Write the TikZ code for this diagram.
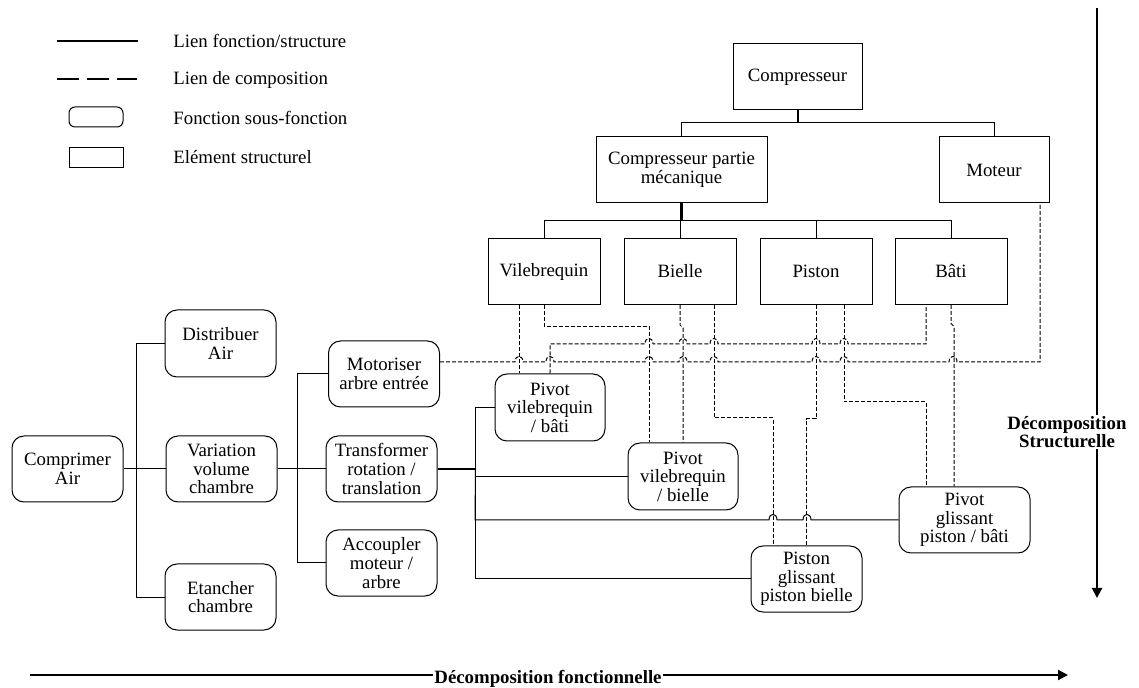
\documentclass[tikz,border=0pt]{standalone}
\usepackage{fontspec}
\setmainfont{Liberation Serif}
\usetikzlibrary{calc,arrows.meta}
\pgfdeclarelayer{bg}
\pgfsetlayers{bg,main}
\tikzset{
    every node/.style={inner sep=1pt, align=center, font=\fontsize{9.4}{9.3}\selectfont}
}
\tikzset{
    fonc/.style={draw, line width=0.5pt, rounded corners=6pt, minimum width=55.5pt, minimum height=33pt},
    elem/.style={draw, line width=0.5pt, minimum width=56pt, minimum height=33pt},
    lien/.style={line width=0.5pt},
    comp/.style={line width=0.5pt, dash pattern=on 2pt off 1pt},
    axe/.style={line width=1pt, -{Triangle[length=5pt,width=5pt]}},
    titre/.style={fill=white, inner sep=0.5pt, font=\bfseries\fontsize{9.4}{9.3}\selectfont},
    legende/.style={anchor=west, inner sep=0pt}
}
\newcommand{\hop}[2]{-- ({#1-4},#2) .. controls ({#1-4},{#2-7.5}) and ({#1+4},{#2-7.5}) .. ({#1+4},#2)}

\begin{document}
\begin{tikzpicture}[x=0.5pt, y=-0.5pt]
        \useasboundingbox (0,0) rectangle (1139,688);
        % legende
        \coordinate (l1a) at (57,41);
        \coordinate (l1b) at (138,41);
        \coordinate (l2a) at (57,79);
        \coordinate (l2b) at (137,79);
        \draw[line width=0.9pt] (l1a) -- (l1b);
        \draw[line width=1.1pt, dash pattern=on 11pt off 4pt] (l2a) -- (l2b);
        \node (lfon) [draw, line width=0.5pt, rounded corners=3pt, minimum width=27pt, minimum height=10pt, inner sep=0pt] at (96,117) {};
        \node (lelem) [draw, line width=0.5pt, minimum width=27pt, minimum height=10pt, inner sep=0pt] at (96,158) {};
        \node (t1) [legende] at (173,41) {Lien fonction/structure};
        \node (t2) [legende] at (173,80) {Lien de composition};
        \node (t3) [legende] at (173,118) {Fonction sous-fonction};
        \node (t4) [legende] at (173,157) {El\'ement structurel};
        % structure
        \node (cmp) [elem, minimum width=64.5pt] at (797.5,77) {Compresseur};
        \node (cpm) [elem, minimum width=85.5pt] at (681.5,170) {Compresseur partie\\m\'ecanique};
        \node (mot) [elem, minimum width=55pt] at (994,170) {Moteur};
        \node (vil) [elem] at (544,271.5) {Vilebrequin};
        \node (bie) [elem] at (680,271.5) {Bielle};
        \node (pis) [elem] at (816,271.5) {Piston};
        \node (bat) [elem] at (951,271.5) {B\^ati};
        % fonctions
        \node (ca) [fonc] at (67.5,469) {Comprimer\\Air};
        \node (da) [fonc, minimum height=33.5pt] at (220.5,343.5) {Distribuer\\Air};
        \node (vvc) [fonc] at (221.5,469) {Variation\\volume\\chambre};
        \node (ec) [fonc] at (220.5,597) {Etancher\\chambre};
        \node (mae) [fonc] at (384,374) {Motoriser\\arbre entr\'ee};
        \node (trt) [fonc] at (381.5,469) {Transformer\\rotation /\\translation};
        \node (ama) [fonc] at (381.5,563) {Accoupler\\moteur /\\arbre};
        \node (pvb) [fonc, minimum width=55pt, minimum height=33.5pt] at (550,407.5) {Pivot\\vilebrequin\\/ b\^ati};
        \node (pvbi) [fonc, minimum width=55pt, minimum height=33.5pt] at (683,476.5) {Pivot\\vilebrequin\\/ bielle};
        \node (pgpb) [fonc, minimum width=65.5pt] at (964.5,520) {Pivot\\glissant\\piston / b\^ati};
        \node (pgpi) [fonc] at (806.5,579) {Piston\\glissant\\piston bielle};
        \begin{pgfonlayer}{bg}
                \draw[lien] (ca.east) -- (vvc.west);
                \draw[lien] (ca.east) -- ++(13,0) |- (da.west);
                \draw[lien] (ca.east) -- ++(13,0) |- (ec.west);
                \draw[lien] (vvc.east) -- (trt.west);
                \draw[lien] (vvc.east) -- ++(20,0) |- (mae.west);
                \draw[lien] (vvc.east) -- ++(20,0) |- (ama.west);
                \draw[lien, line width=1pt] (trt.east) -- ++(38,0);
                \draw[lien, line width=0.8pt] (trt.east) ++(38,0) |- (pvb.west);
                \draw[lien] (trt.east) ++(38,0) |- (pvbi.west);
                \draw[lien, line width=0.8pt] (trt.east) ++(38,0) -- ++(0,110);
                \draw[lien] (trt.east) ++(38,0) |- (pgpi.west);
                \draw[lien] (trt.east) ++(38,0) -- (475,520) \hop{773}{520} \hop{807}{520} -- (pgpb.west);
                \draw[lien, line width=1pt] (cmp.south) -- ++(0,13);
                \draw[lien] (cpm.north) -- ++(0,-14) -| (mot.north);
                \draw[lien, line width=1.2pt] (cpm.south) -- ++(0,17);
                \draw[lien] (vil.north) -- ++(0,-17.5) -| (bat.north);
                \draw[lien] (bie.north) -- ++(0,-17.5);
                \draw[lien] (pis.north) -- ++(0,-17.5);
                \draw[comp] ($(mae.east)+(0,-12)$) \hop{519}{362} \hop{550}{362} \hop{649}{362} \hop{683}{362} \hop{714}{362} \hop{816}{362} \hop{844}{362} \hop{953}{362} -- (1040,362) -- ($(mot.south)+(46,0)$);
                \draw[comp] (pvb.north) -- (550,344) \hop{649}{344} \hop{683}{344} \hop{714}{344} \hop{816}{344} \hop{844}{344} -- (926,344) -- ($(bat.south)+(-25,0)$);
                \draw[comp] ($(vil.south)+(-25,0)$) -- ($(pvb.north)+(-31,0)$);
                \draw[comp] (vil.south) -- ++(0,21.5) -| ($(pvbi.north)+(-34,0)$);
                \draw[comp] (bie.south) -- ++(0,20) -- ++(3,3) -- (pvbi.north);
                \draw[comp] ($(bie.south)+(34,0)$) |- (773,418) -- ($(pgpi.north)+(-33.5,0)$);
                \draw[comp] (pis.south) |- (806.5,419) -- (pgpi.north);
                \draw[comp] ($(pis.south)+(28,0)$) |- (926,402) -- ($(pgpb.north)+(-38.5,0)$);
                \draw[comp] (bat.south) -- ++(0,18.5) -- ++(3,3) -- ($(pgpb.north)+(-10.5,0)$);
        \end{pgfonlayer}
        % axes
        \coordinate (hx0) at (30,675);
        \coordinate (hx1) at (1068,675);
        \coordinate (vy0) at (1097,8);
        \coordinate (vy1) at (1097,598);
        \draw[axe] (hx0) -- (hx1);
        \draw[axe] (vy0) -- (vy1);
        \node (dfon) [titre] at (548,679) {D\'ecomposition fonctionnelle};
        \node (dstr) [titre] at (1067,432) {D\'ecomposition\\Structurelle};
\end{tikzpicture}
\end{document}
